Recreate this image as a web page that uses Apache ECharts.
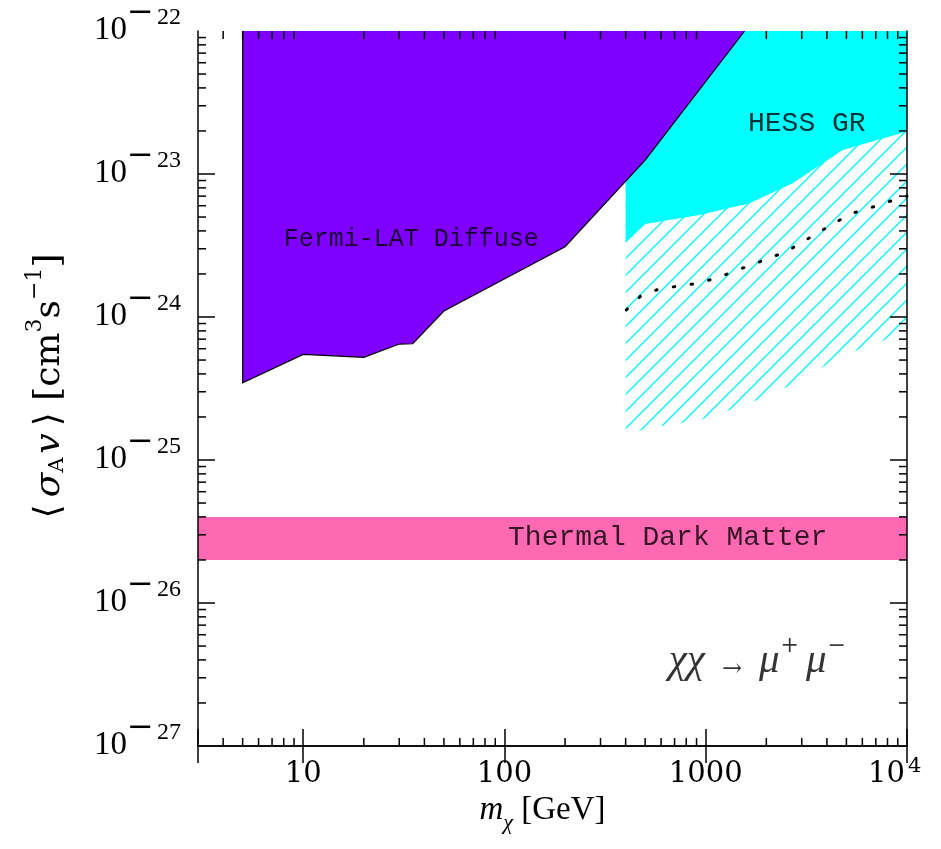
<!DOCTYPE html>
<html>
<head>
<meta charset="utf-8">
<title>Dark matter annihilation limits, μ⁺μ⁻ channel</title>
<script src="https://cdn.jsdelivr.net/npm/echarts@6/dist/echarts.min.js"></script>
<style>
  html, body { margin: 0; padding: 0; background: #fff; }
  #chart { width: 941px; height: 849px; }
</style>
</head>
<body>
<div id="chart"></div>
<script>
// Fermi-LAT diffuse exclusion: lower boundary of the excluded region
const fermiMass  = [5, 10, 20, 30, 35, 50, 200, 500, 1560];
const fermiSigma = [3.47e-25, 5.48e-25, 5.22e-25, 6.47e-25, 6.5e-25, 1.1e-24, 3.1e-24, 1.25e-23, 1e-22];

// HESS Galactic-ridge limit: lower boundary of the excluded region
const hessMass  = [400, 500, 930, 1650, 2700, 4800, 10000];
const hessSigma = [3.31e-24, 4.47e-24, 5.16e-24, 6.24e-24, 8.61e-24, 1.47e-23, 1.98e-23];

// Hatched band: lower edge of the extended HESS reach
const hatchMass  = [400, 526, 832, 1047, 1422, 1951, 2716, 4385, 6180, 8222, 10000];
const hatchSigma = [1.5e-25, 1.68e-25, 1.85e-25, 1.98e-25, 2.33e-25, 2.74e-25, 3.4e-25, 5.0e-25, 6.2e-25, 7.1e-25, 7.8e-25];

// Dotted curve inside the hatched band
const dotMass  = [403, 475, 579, 719, 891, 1099, 1357, 1674, 2057, 2529, 3061, 3690, 4467, 5447, 6690, 8292, 10000];
const dotSigma = [1.12e-24, 1.40e-24, 1.56e-24, 1.64e-24, 1.71e-24, 1.85e-24, 2.06e-24, 2.31e-24, 2.57e-24, 2.88e-24, 3.38e-24, 3.95e-24, 4.64e-24, 5.36e-24, 5.85e-24, 6.47e-24, 7.0e-24];

// Thermal relic cross-section band
const thermalLow  = 2e-26;
const thermalHigh = 4e-26;

// Axis ranges and tick labels
const massMin = 3, massMax = 1e4;
const sigmaMin = 1e-27, sigmaMax = 1e-22;
const xTickValues = [10, 100, 1000, 10000];
const xTickBase   = ['10', '100', '1000', '10'];
const xTickExp    = ['', '', '', '4'];
const yTickValues = [1e-27, 1e-26, 1e-25, 1e-24, 1e-23, 1e-22];
const yTickBase   = ['10', '10', '10', '10', '10', '10'];
const yTickExp    = ['27', '26', '25', '24', '23', '22'];

// Logarithmic minor tick positions (2..9 within each decade)
const xMinor = [];
for (let d = 0; d <= 3; d++) for (let k = 2; k <= 9; k++) {
  const v = k * Math.pow(10, d);
  if (v > massMin && v < massMax) xMinor.push(v);
}
const yMinor = [];
for (let d = -27; d <= -23; d++) for (let k = 2; k <= 9; k++) yMinor.push(k * Math.pow(10, d));

// Diagonal hatch tile
function hatchTile() {
  const s = 17;
  const c = document.createElement('canvas');
  c.width = s; c.height = s;
  const g = c.getContext('2d');
  g.strokeStyle = '#14f2ff';
  g.lineWidth = 1.5;
  g.beginPath();
  g.moveTo(-2, s + 2); g.lineTo(s + 2, -2);
  g.moveTo(-2, 2); g.lineTo(2, -2);
  g.moveTo(s - 2, s + 2); g.lineTo(s + 2, s - 2);
  g.stroke();
  return c;
}
const hatchFill = { type: 'pattern', image: hatchTile(), repeat: 'repeat' };

// Region above a boundary curve, closed along the top of the plot
function regionAbove(name, xs, ys, fill, z, outline) {
  return {
    name: name, type: 'custom', xAxisIndex: 0, yAxisIndex: 0, z: z, silent: true,
    data: [[xs[0], ys[0]]],
    renderItem: function (params, api) {
      const edge = xs.map((x, i) => api.coord([x, ys[i]]));
      const topRight = api.coord([xs[xs.length - 1], sigmaMax]);
      const topLeft = api.coord([xs[0], sigmaMax]);
      const children = [{
        type: 'polygon',
        shape: { points: edge.concat([topRight, topLeft]) },
        style: { fill: fill, stroke: null }
      }];
      if (outline) {
        children.push({
          type: 'polyline',
          shape: { points: [topLeft].concat(edge, [topRight]) },
          style: { fill: null, stroke: '#000', lineWidth: 1.2 }
        });
      }
      return { type: 'group', children: children };
    }
  };
}

const serif = 'Liberation Serif';
const dserif = 'DejaVu Serif';
const mono = 'Liberation Mono';

const frame = { show: true, lineStyle: { color: '#000', width: 1.5 } };
const majorTick = { show: true, inside: true, length: 17, lineStyle: { color: '#000', width: 1.5 } };

const chart = echarts.init(document.getElementById('chart'), null, { renderer: 'canvas' });

chart.setOption({
  animation: false,
  backgroundColor: '#fff',
  grid: { left: 198, right: 34, top: 31, bottom: 103, containLabel: false, outerBoundsMode: 'none' },
  xAxis: [
    {
      type: 'log', logBase: 10, min: massMin, max: massMax, position: 'bottom', z: 10,
      axisLine: frame, axisTick: majorTick, splitLine: { show: false }, minorTick: { show: false },
      axisLabel: { show: false },
      name: '{i|m}{sub|χ}{t| [GeV]}',
      nameLocation: 'middle', nameGap: 48,
      nameTextStyle: {
        padding: [0, 20, 0, 0],
        rich: {
          i: { fontFamily: serif, fontStyle: 'italic', fontSize: 33, lineHeight: 40, color: '#000', verticalAlign: 'top' },
          sub: { fontFamily: serif, fontStyle: 'italic', fontSize: 22, lineHeight: 22, color: '#000', verticalAlign: 'bottom' },
          t: { fontFamily: serif, fontSize: 33, lineHeight: 40, color: '#000', verticalAlign: 'top' }
        }
      }
    },
    {
      type: 'log', logBase: 10, min: massMin, max: massMax, position: 'top', z: 10,
      axisLine: frame, axisTick: majorTick, axisLabel: { show: false }, splitLine: { show: false }
    }
  ],
  yAxis: [
    {
      type: 'log', logBase: 10, min: sigmaMin, max: sigmaMax, position: 'left', z: 10,
      axisLine: frame, axisTick: majorTick, splitLine: { show: false }, axisLabel: { show: false }
    },
    {
      type: 'log', logBase: 10, min: sigmaMin, max: sigmaMax, position: 'right', z: 10,
      axisLine: frame, axisTick: majorTick, axisLabel: { show: false }, splitLine: { show: false }
    }
  ],
  graphic: [
    {
      // vertical axis title
      type: 'text', x: 46, y: 386, rotation: Math.PI / 2, silent: true,
      style: {
        text: '{t|⟨\u2009}{ti|σ}{sub|A}{ti|\u200av}{t|\u2009⟩ [cm}{sup|3}{t|s}{sup|−1}{t|]}',
        align: 'center', verticalAlign: 'middle',
        rich: {
          t: { fontFamily: dserif, fontSize: 36, lineHeight: 44, fill: '#000', verticalAlign: 'bottom' },
          ti: { fontFamily: dserif, fontStyle: 'italic', fontSize: 36, lineHeight: 44, fill: '#000', verticalAlign: 'bottom' },
          sub: { fontFamily: dserif, fontSize: 21, lineHeight: 20, fill: '#000', verticalAlign: 'bottom' },
          sup: { fontFamily: dserif, fontSize: 22, lineHeight: 22, fill: '#000', verticalAlign: 'top' }
        }
      }
    }
  ],
  series: [
    regionAbove('hatched band', hatchMass, hatchSigma, hatchFill, 1, false),
    regionAbove('HESS GR', hessMass, hessSigma, '#00ffff', 2, false),
    {
      name: 'dotted',
      type: 'line', xAxisIndex: 0, yAxisIndex: 0, z: 3,
      data: dotMass.map((x, i) => [x, dotSigma[i]]),
      symbol: 'none', silent: true,
      lineStyle: { color: '#000', width: 3, type: [1.5, 16.5], cap: 'round' }
    },
    regionAbove('Fermi-LAT Diffuse', fermiMass, fermiSigma, '#7f00ff', 4, true),
    {
      name: 'Thermal Dark Matter',
      type: 'custom', xAxisIndex: 0, yAxisIndex: 0, z: 2, silent: true,
      data: [[massMin, thermalLow]],
      renderItem: function (params, api) {
        const a = api.coord([massMin, thermalHigh]);
        const b = api.coord([massMax, thermalLow]);
        return {
          type: 'rect',
          shape: { x: a[0], y: a[1], width: b[0] - a[0], height: b[1] - a[1] },
          style: { fill: '#ff69b4' }
        };
      }
    },
    {
      // text annotations anchored in data coordinates
      type: 'scatter', xAxisIndex: 0, yAxisIndex: 0, z: 6, silent: true,
      symbolSize: 0,
      label: { show: true, position: 'inside', color: '#000' },
      data: [
        { value: [34.4, 3.5e-24], label: { formatter: 'Fermi-LAT Diffuse', fontFamily: mono, fontSize: 25 } },
        { value: [3177, 2.25e-23], label: { formatter: 'HESS GR', fontFamily: mono, fontSize: 28 } },
        { value: [647, 2.85e-26], label: { formatter: 'Thermal Dark Matter', fontFamily: mono, fontSize: 28 } },
        {
          value: [1880, 4.1e-27],
          label: {
            formatter: '{i|χχ}{n|→}{i|μ}{p|+}{i|μ}{p|−}',
            rich: {
              i: { fontFamily: serif, fontStyle: 'italic', fontSize: 41, lineHeight: 46, color: '#000', verticalAlign: 'bottom' },
              n: { fontFamily: dserif, fontSize: 24, lineHeight: 46, color: '#000', verticalAlign: 'bottom', padding: [0, 17, 0, 17] },
              p: { fontFamily: dserif, fontSize: 22, lineHeight: 22, color: '#000', verticalAlign: 'top', padding: [0, 7, 0, 1] }
            }
          }
        }
      ]
    },
    {
      name: 'x tick labels',
      type: 'custom', xAxisIndex: 0, yAxisIndex: 0, z: 20, silent: true,
      data: xTickValues.map(v => [v, sigmaMin]),
      renderItem: function (params, api) {
        const i = params.dataIndex;
        const p = api.coord([api.value(0), api.value(1)]);
        const cs = params.coordSys;
        const y = cs.y + cs.height + 28;
        const base = { fontFamily: dserif, fontSize: 29, fill: '#000', verticalAlign: 'middle' };
        if (!xTickExp[i]) {
          return { type: 'text', x: p[0], y: y, style: Object.assign({ text: xTickBase[i], align: 'center' }, base) };
        }
        return {
          type: 'group',
          children: [
            { type: 'text', x: p[0] - 2, y: y, style: Object.assign({ text: xTickBase[i], align: 'right' }, base) },
            { type: 'text', x: p[0] + 1, y: y - 7, style: { text: xTickExp[i], align: 'left', verticalAlign: 'middle', fontFamily: dserif, fontSize: 21, fill: '#000' } }
          ]
        };
      }
    },
    {
      name: 'y tick labels',
      type: 'custom', xAxisIndex: 0, yAxisIndex: 0, z: 20, silent: true,
      data: yTickValues.map(v => [massMin, v]),
      renderItem: function (params, api) {
        const i = params.dataIndex;
        const p = api.coord([api.value(0), api.value(1)]);
        const cs = params.coordSys;
        return {
          type: 'group',
          children: [
            { type: 'text', x: cs.x - 71, y: p[1] - 1, style: { text: yTickBase[i], align: 'right', verticalAlign: 'middle', fontFamily: serif, fontSize: 33, fill: '#000' } },
            { type: 'text', x: cs.x - 71, y: p[1] - 17, style: { text: '−', align: 'left', verticalAlign: 'middle', fontFamily: dserif, fontSize: 32, fill: '#000' } },
            { type: 'text', x: cs.x - 41, y: p[1] - 13, style: { text: yTickExp[i], align: 'left', verticalAlign: 'middle', fontFamily: serif, fontSize: 24, fill: '#000' } }
          ]
        };
      }
    },
    {
      name: 'x minor ticks',
      type: 'custom', xAxisIndex: 0, yAxisIndex: 0, z: 20, silent: true,
      data: xMinor.map(v => [v, sigmaMin]),
      renderItem: function (params, api) {
        const p = api.coord([api.value(0), api.value(1)]);
        const cs = params.coordSys;
        const st = { stroke: '#000', lineWidth: 1.5 };
        return {
          type: 'group',
          children: [
            { type: 'line', shape: { x1: p[0], y1: cs.y + cs.height, x2: p[0], y2: cs.y + cs.height - 8 }, style: st },
            { type: 'line', shape: { x1: p[0], y1: cs.y, x2: p[0], y2: cs.y + 8 }, style: st }
          ]
        };
      }
    },
    {
      name: 'y minor ticks',
      type: 'custom', xAxisIndex: 0, yAxisIndex: 0, z: 20, silent: true,
      data: yMinor.map(v => [massMin, v]),
      renderItem: function (params, api) {
        const p = api.coord([api.value(0), api.value(1)]);
        const cs = params.coordSys;
        const st = { stroke: '#000', lineWidth: 1.5 };
        return {
          type: 'group',
          children: [
            { type: 'line', shape: { x1: cs.x, y1: p[1], x2: cs.x + 8, y2: p[1] }, style: st },
            { type: 'line', shape: { x1: cs.x + cs.width, y1: p[1], x2: cs.x + cs.width - 8, y2: p[1] }, style: st }
          ]
        };
      }
    }
  ]
});
</script>
</body>
</html>
